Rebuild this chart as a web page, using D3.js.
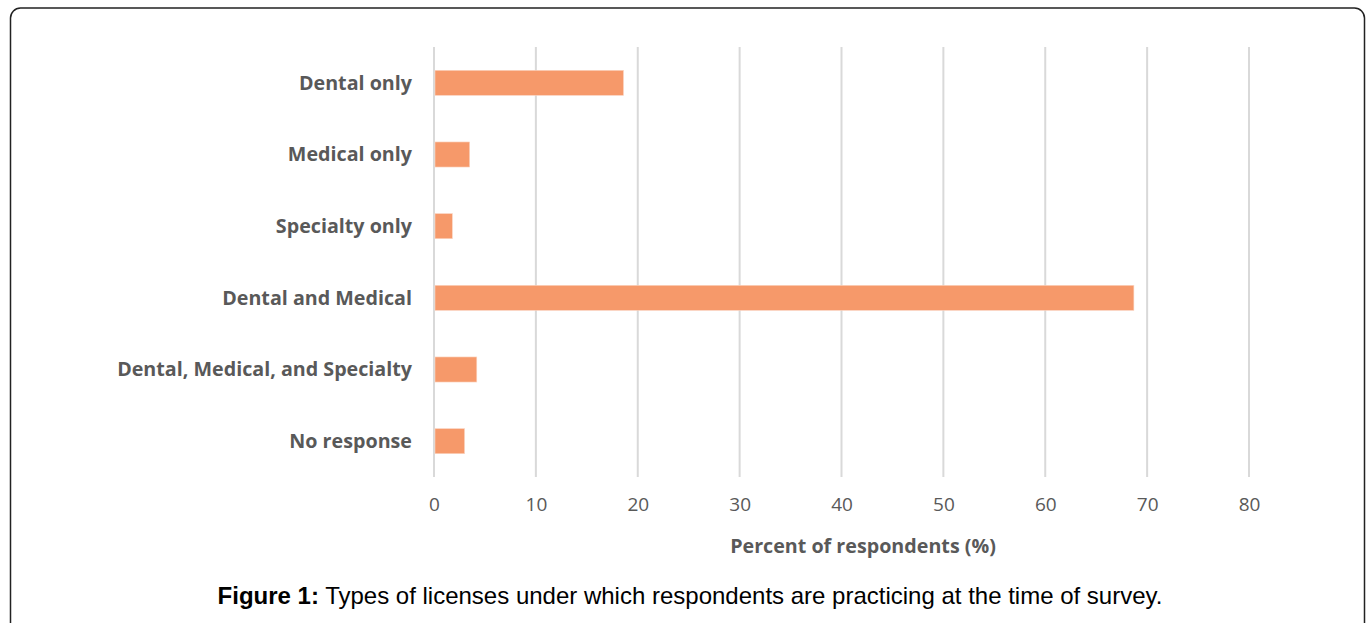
<!DOCTYPE html>
<html><head><meta charset="utf-8">
<script src="https://cdn.jsdelivr.net/npm/d3@7"></script>
<style>body{margin:0;background:#fff}svg{display:block}</style>
</head><body>
<script>
const categories = ["Dental only","Medical only","Specialty only","Dental and Medical","Dental, Medical, and Specialty","No response"];
const values = [18.6, 3.5, 1.8, 68.7, 4.2, 3.0];
const xTicks = [0,10,20,30,40,50,60,70,80];
const axisTitle = "Percent of respondents (%)";
const captionBold = "Figure 1:";
const captionText = " Types of licenses under which respondents are practicing at the time of survey.";

const W = 1371, H = 623;
const svg = d3.select("body").append("svg").attr("width", W).attr("height", H);

svg.append("rect").attr("x",10.5).attr("y",8).attr("width",1354).attr("height",640)
  .attr("rx",10).attr("fill","none").attr("stroke","#222").attr("stroke-width",1.5);

const x = d3.scaleLinear().domain([0,80]).range([434,1249]);
const y = d3.scaleBand().domain(categories).range([47,477]).paddingInner(0.65).paddingOuter(0.325);

const grid = svg.append("g");
grid.selectAll("line").data(xTicks).join("line")
  .attr("x1", d=>x(d)).attr("x2", d=>x(d)).attr("y1",47).attr("y2",477)
  .attr("stroke","#d9d9d9").attr("stroke-width",2);

svg.append("g").selectAll("rect").data(values).join("rect")
  .attr("x", x(0)+1).attr("y",(d,i)=>y(categories[i]))
  .attr("width", d=>x(d)-x(0)-1).attr("height", y.bandwidth())
  .attr("fill","#F6996A").attr("stroke","#fbd6c3").attr("stroke-width",0.6);

const xAxis = d3.axisBottom(x).tickValues(xTicks).tickSize(0).tickPadding(0);
const gx = svg.append("g").attr("transform","translate(0,511)").call(xAxis);
gx.select(".domain").remove();
gx.selectAll("text").attr("font-family","'Open Sans', sans-serif").attr("font-size",19)
  .attr("fill","#595959").attr("dy",0);

const yAxis = d3.axisLeft(y).tickSize(0).tickPadding(0);
const gy = svg.append("g").attr("transform","translate(412,0)").call(yAxis);
gy.select(".domain").remove();
gy.selectAll("text").attr("font-family","'Open Sans', sans-serif").attr("font-size",19.7).attr("font-weight","bold")
  .attr("fill","#595959").attr("dy","0.35em");

svg.append("text").attr("x",863).attr("y",553).attr("text-anchor","middle")
  .attr("font-family","'Open Sans', sans-serif").attr("font-size",19.7).attr("font-weight","bold")
  .attr("fill","#595959").text(axisTitle);

const cap = svg.append("text").attr("x",690).attr("y",604).attr("text-anchor","middle")
  .attr("font-family","'Liberation Sans', Arial, sans-serif").attr("font-size",24).attr("fill","#000");
cap.append("tspan").attr("font-weight","bold").text(captionBold);
cap.append("tspan").text(captionText);
</script>
</body></html>
